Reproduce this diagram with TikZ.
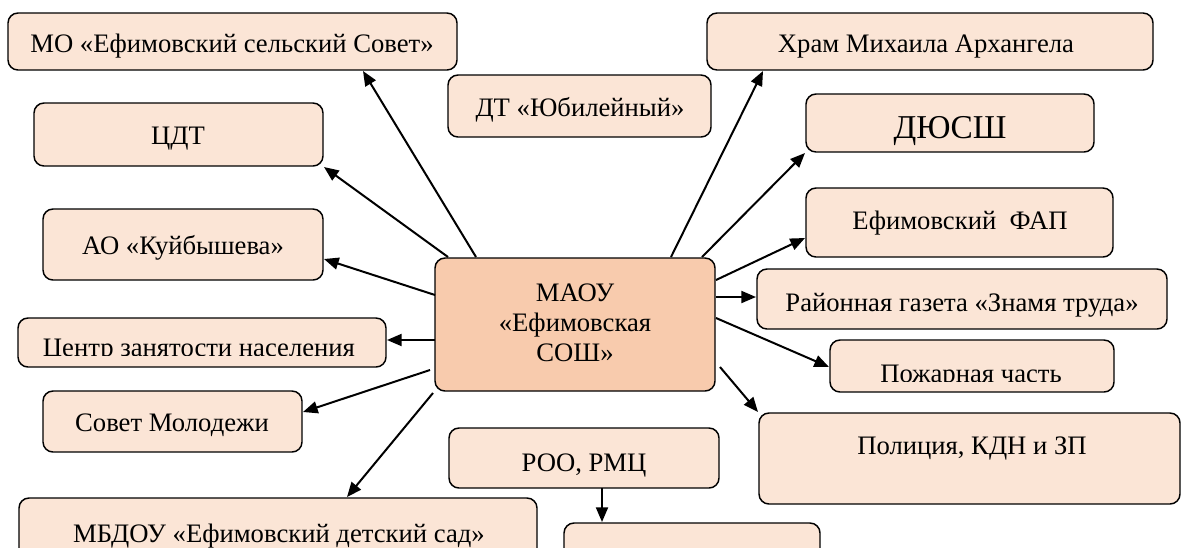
\documentclass[tikz,border=0pt]{standalone}
\usepackage{fontspec}
\setmainfont{Liberation Serif}
\usetikzlibrary{arrows.meta}
\definecolor{peach}{HTML}{FBE5D6}
\definecolor{peachdark}{HTML}{F8CBAD}
\tikzset{
  box/.style={draw=black, fill=peach, rounded corners=7.5pt, line width=1.1pt, inner sep=0pt},
  txt/.style={inner sep=0pt, anchor=base, align=center, font=\fontsize{20}{22.5}\selectfont},
  arr/.style={-{Triangle[length=11pt,width=9pt]}, line width=1.5pt},
}
% #1 extra options, #2 name, #3 x1, #4 y1, #5 x2, #6 y2
\newcommand\orgbox[6][]{%
  \node[box,#1,minimum width={(#5-#3)*0.75pt},minimum height={(#6-#4)*0.75pt}] (#2)
    at ({(#3+#5)/2},{(#4+#6)/2}) {};}
\begin{document}
\begin{tikzpicture}[x=0.75pt,y=-0.75pt]
\useasboundingbox (0,0) rectangle (1181,547);
\clip (0,0) rectangle (1181,547);

% boxes
\orgbox{mo}{8}{13}{457}{70}
\orgbox{dt}{448}{75}{711}{137}
\orgbox{hram}{707}{13}{1153}{70}
\orgbox{cdt}{34}{103}{323}{166}
\orgbox{dyussh}{806}{94}{1094}{152}
\orgbox{ao}{43}{209}{323}{280}
\orgbox{fap}{806}{188}{1113}{257}
\orgbox[fill=peachdark]{soc}{435}{258}{715}{391}
\orgbox{gazeta}{757}{269}{1167}{329}
\orgbox{czn}{18}{318}{386}{367}
\orgbox{pozh}{830}{340}{1114}{392}
\orgbox{sovet}{43}{391}{302}{452}
\orgbox{roo}{449}{428}{719}{488}
\orgbox{police}{759}{413}{1180}{504}
\orgbox{mbdou}{19}{498}{537}{570}
\orgbox{empty}{564}{523}{820}{570}

% texts (anchored at their baselines)
\node[txt] (mo-t) at (232,52) {МО «Ефимовский сельский Совет»};
\node[txt] (dt-t) at (580,116) {ДТ «Юбилейный»};
\node[txt] (hram-t) at (926,52) {Храм Михаила Архангела};
\node[txt] (cdt-t) at (178,144) {ЦДТ};
\node[txt, font=\fontsize{25}{28}\selectfont] (dyussh-t) at (950,138) {ДЮСШ};
\node[txt] (ao-t) at (183,254) {АО «Куйбышева»};
\node[txt] (fap-t) at (960,229) {Ефимовский\ \ ФАП};
\node[txt] (soc-t) at (575,361) {МАОУ\\«Ефимовская\\СОШ»};
\node[txt] (gazeta-t) at (962,311) {Районная газета «Знамя труда»};
\begin{scope}
  \clip (18,318) rectangle (386,355);
  \node[txt] (czn-t) at (199,356) {Центр занятости населения};
\end{scope}
\begin{scope}
  \clip (830,340) rectangle (1114,381);
  \node[txt] (pozh-t) at (971,382) {Пожарная часть};
\end{scope}
\node[txt] (sovet-t) at (172,431) {Совет Молодежи};
\node[txt] (roo-t) at (584,471) {РОО, РМЦ};
\node[txt] (police-t) at (972,454) {Полиция, КДН и ЗП};
\node[txt] (mbdou-t) at (279,542) {МБДОУ «Ефимовский детский сад»};

% connector end points
\coordinate (s-mo) at (476,257);     \coordinate (t-mo) at (363,71);
\coordinate (s-cdt) at (448,257);    \coordinate (t-cdt) at (324,167);
\coordinate (s-hram) at (671,257);   \coordinate (t-hram) at (763,71);
\coordinate (s-dyussh) at (702,257); \coordinate (t-dyussh) at (805,153);
\coordinate (s-fap) at (716,280);    \coordinate (t-fap) at (805,238);
\coordinate (s-gaz) at (716,297);    \coordinate (t-gaz) at (756,297);
\coordinate (s-pozh) at (716,318);   \coordinate (t-pozh) at (829,367);
\coordinate (s-pol) at (720,367);    \coordinate (t-pol) at (758,412);
\coordinate (s-mbdou) at (433,393);  \coordinate (t-mbdou) at (347,497);
\coordinate (s-sovet) at (430,370);  \coordinate (t-sovet) at (303,412);
\coordinate (s-czn) at (435,340);    \coordinate (t-czn) at (387,340);
\coordinate (s-ao) at (435,295);     \coordinate (t-ao) at (324,259);
\coordinate (s-roo) at (602,488);    \coordinate (t-roo) at (602,522);

\draw[arr] (s-mo) -- (t-mo);
\draw[arr] (s-cdt) -- (t-cdt);
\draw[arr] (s-hram) -- (t-hram);
\draw[arr] (s-dyussh) -- (t-dyussh);
\draw[arr] (s-fap) -- (t-fap);
\draw[arr] (s-gaz) -- (t-gaz);
\draw[arr] (s-pozh) -- (t-pozh);
\draw[arr] (s-pol) -- (t-pol);
\draw[arr] (s-mbdou) -- (t-mbdou);
\draw[arr] (s-sovet) -- (t-sovet);
\draw[arr] (s-czn) -- (t-czn);
\draw[arr] (s-ao) -- (t-ao);
\draw[arr] (s-roo) -- (t-roo);
\end{tikzpicture}
\end{document}
